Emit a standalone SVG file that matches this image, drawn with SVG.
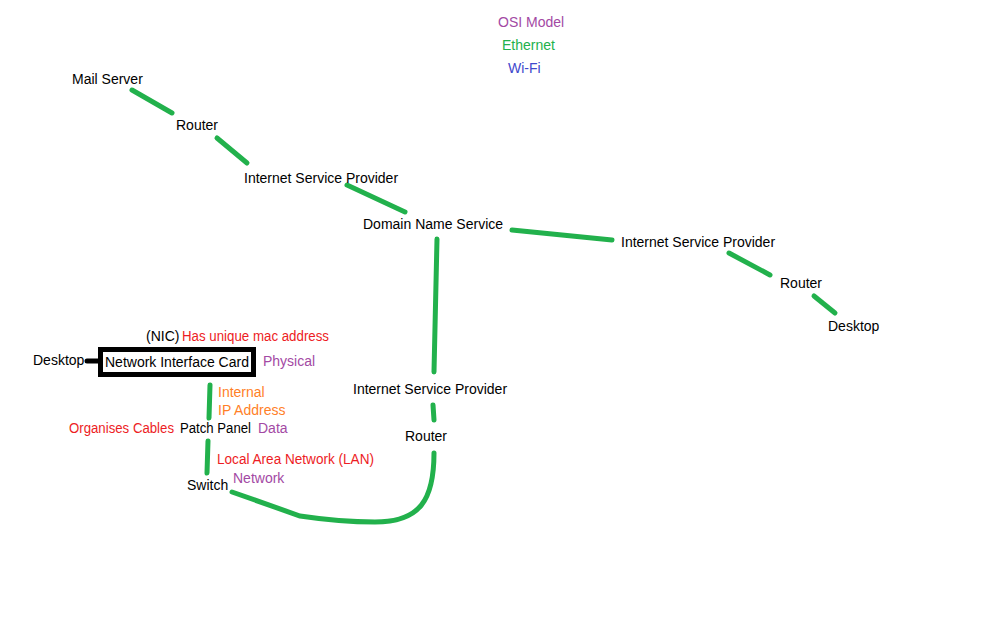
<svg xmlns="http://www.w3.org/2000/svg" width="1008" height="630" viewBox="0 0 1008 630">
<style>
text{font-family:"Liberation Sans",Arial,sans-serif;font-size:14px;fill:#000}
.p{fill:#A349A4}.r{fill:#ED1C24}.o{fill:#FF7F27}.g{fill:#22B14C}.b{fill:#3F48CC}
.c{stroke:#22B14C;stroke-width:5;stroke-linecap:round;fill:none}
</style>
<rect width="1008" height="630" fill="#fff"/>
<g id="legend">
<text x="498" y="27" class="p">OSI Model</text>
<text x="502" y="50" class="g">Ethernet</text>
<text x="508" y="73" class="b">Wi-Fi</text>
</g>
<g id="connectors">
<path class="c" d="M132,90 L172,113"/>
<path class="c" d="M217,138 L247,163"/>
<path class="c" d="M347,185 L405,212"/>
<path class="c" d="M512,230 L612,240"/>
<path class="c" d="M729,253 L770,275"/>
<path class="c" d="M814,296 L835,313"/>
<path class="c" d="M437,239 L434,372"/>
<path class="c" d="M433,405 L434,420"/>
<path class="c" d="M434,453 C434,500 420,522 375,522 C345,522 320,519 300,516 L232,492"/>
<path class="c" d="M210,385 L209,418"/>
<path class="c" d="M208,441 L207,473"/>
<path d="M87,361 L100,361" stroke="#000" stroke-width="5" stroke-linecap="round"/>
</g>
<g id="mail-server"><text x="72" y="84">Mail Server</text></g>
<g id="router-1"><text x="176" y="130">Router</text></g>
<g id="isp-1"><text x="244" y="183">Internet Service Provider</text></g>
<g id="dns"><text x="363" y="229">Domain Name Service</text></g>
<g id="isp-2"><text x="621" y="247">Internet Service Provider</text></g>
<g id="router-2"><text x="780" y="288">Router</text></g>
<g id="desktop-2"><text x="828" y="331">Desktop</text></g>
<g id="isp-3"><text x="353" y="394">Internet Service Provider</text></g>
<g id="router-3"><text x="405" y="441">Router</text></g>
<g id="nic">
<rect x="100.5" y="349.5" width="153" height="25" fill="none" stroke="#000" stroke-width="5"/>
<text x="105" y="367">Network Interface Card</text>
<text x="146" y="341">(NIC)</text>
<text x="182" y="341" class="r" textLength="147" lengthAdjust="spacingAndGlyphs">Has unique mac address</text>
<text x="263" y="366" class="p">Physical</text>
</g>
<g id="desktop-1"><text x="33" y="365">Desktop</text></g>
<g id="ip-label">
<text x="218" y="397" class="o">Internal</text>
<text x="218" y="415" class="o">IP Address</text>
</g>
<g id="patch-panel">
<text x="69" y="433" class="r" textLength="105" lengthAdjust="spacingAndGlyphs">Organises Cables</text>
<text x="180" y="433" textLength="71" lengthAdjust="spacingAndGlyphs">Patch Panel</text>
<text x="258" y="433" class="p">Data</text>
</g>
<g id="lan-label"><text x="217" y="464" class="r" textLength="157" lengthAdjust="spacingAndGlyphs">Local Area Network (LAN)</text></g>
<g id="switch">
<text x="187" y="490">Switch</text>
<text x="233" y="483" class="p">Network</text>
</g>
</svg>
